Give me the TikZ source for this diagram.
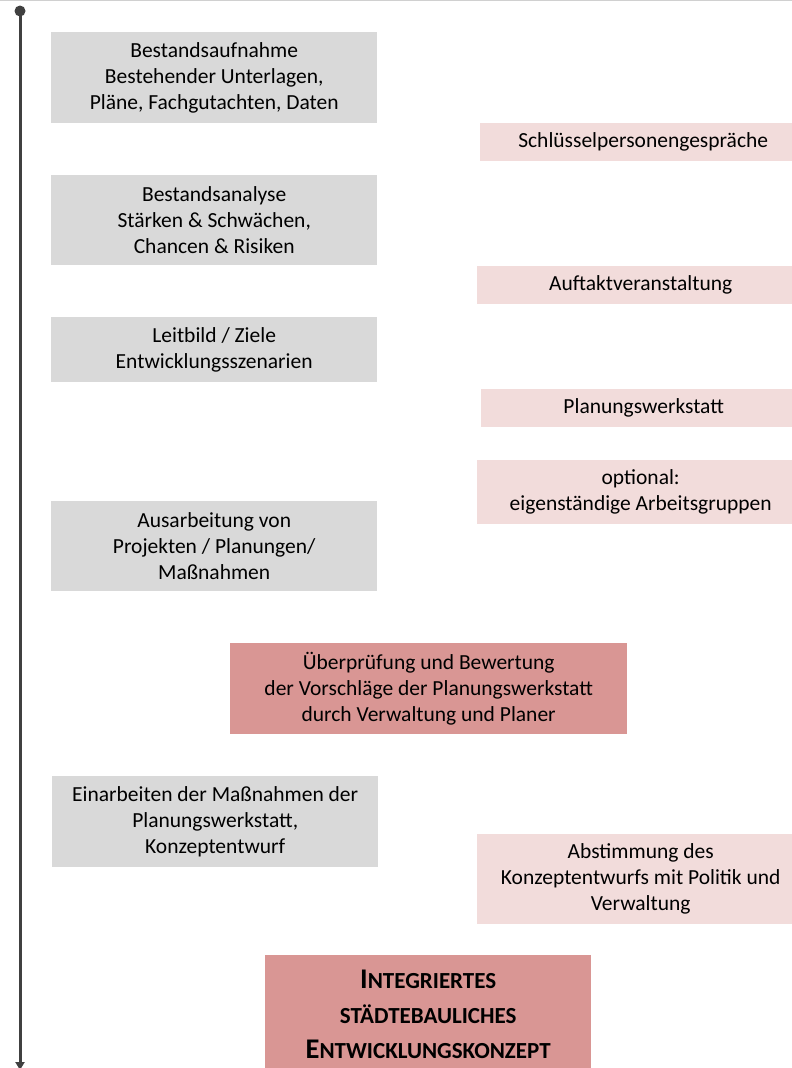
\documentclass[tikz,border=0pt]{standalone}
\usepackage{fontspec}
\setmainfont{Carlito}
\usetikzlibrary{arrows.meta}
\definecolor{gboxc}{HTML}{D9D9D9}
\definecolor{lpink}{HTML}{F2DCDB}
\definecolor{dpink}{HTML}{D99694}
\definecolor{axisc}{HTML}{404040}
\definecolor{topc}{HTML}{D0D0D0}
\newcommand{\scA}[2]{{\fontsize{28.5}{35}\selectfont #1}{\fontsize{23}{35}\selectfont #2}}
\tikzset{
  x=1pt,y=-1pt,
  base/.style={inner sep=0pt, align=center, text=black, font=\fontsize{21.5}{26}\selectfont, anchor=north west},
  gbox/.style={base, fill=gboxc},
  lbox/.style={base, fill=lpink},
  dbox/.style={base, fill=dpink},
}
\newcommand{\bx}[7]{\node[#1, minimum width=#4pt-#2pt, minimum height=#5pt-#3pt] (#6) at (#2,#3) {#7};}
\begin{document}
\begin{tikzpicture}
\useasboundingbox (0,0) rectangle (792,1068);
\fill[topc] (0,0) rectangle (792,1.2);
\bx{gbox}{51}{32}{377}{123}{n1}{Bestandsaufnahme\\Bestehender Unterlagen,\\Pläne, Fachgutachten, Daten}
\bx{lbox}{480}{123}{806}{161}{n2}{Schlüsselpersonengespräche}
\bx{gbox}{51}{175}{377}{265}{n3}{Bestandsanalyse\\Stärken \& Schwächen,\\Chancen \& Risiken}
\bx{lbox}{477}{266}{804}{304}{n4}{Auftaktveranstaltung}
\bx{gbox}{51}{317}{377}{382}{n5}{Leitbild / Ziele\\Entwicklungsszenarien}
\bx{lbox}{481}{389}{806}{427}{n6}{Planungswerkstatt}
\bx{lbox}{477}{460}{804}{524}{n7}{optional:\\eigenständige Arbeitsgruppen}
\bx{gbox}{51}{501}{377}{591}{n8}{Ausarbeitung von\\Projekten / Planungen/\\Maßnahmen}
\bx{dbox}{230}{643}{627}{734}{n9}{Überprüfung und Bewertung\\der Vorschläge der Planungswerkstatt\\durch Verwaltung und Planer}
\bx{gbox}{52}{776}{378}{867}{n10}{Einarbeiten der Maßnahmen der\\Planungswerkstatt,\\Konzeptentwurf}
\bx{lbox}{477}{834}{804}{924}{n11}{Abstimmung des\\Konzeptentwurfs mit Politik und\\Verwaltung}
\node[dbox, font=\bfseries\fontsize{23}{35}\selectfont, minimum width=326pt, minimum height=118pt] (n12) at (265,955) {\scA{I}{NTEGRIERTES}\\\scA{}{STÄDTEBAULICHES}\\\scA{E}{NTWICKLUNGSKONZEPT}};
\node[circle, fill=axisc, inner sep=0pt, minimum size=11pt] (start) at (20,11) {};
\coordinate (end) at (20,1070);
\draw[axisc, line width=3pt, -{Triangle[width=9pt,length=8pt]}] (start.center) -- (end);
\end{tikzpicture}
\end{document}
